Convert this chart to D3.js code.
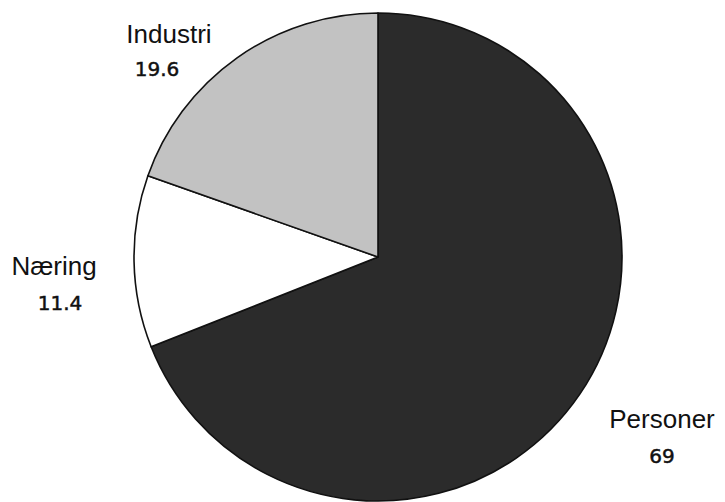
<!DOCTYPE html>
<html>
<head>
<meta charset="utf-8">
<script src="https://cdn.jsdelivr.net/npm/d3@7"></script>
<style>
  body { margin: 0; background: #fff; }
  .label { font-family: "Liberation Sans", Arial, sans-serif; font-size: 26px; fill: #111; }
  .value { font-family: "DejaVu Sans", sans-serif; font-size: 20px; fill: #111; stroke: #111; stroke-width: 0.5px; }
</style>
</head>
<body>
<div class="chart"></div>
<script>
// data
var categories = ["Personer", "Næring", "Industri"];
var values = [69, 11.4, 19.6];
var valueLabels = ["69", "11.4", "19.6"];

var svgWidth = 725;
var svgHeight = 502;

var cx = 378, cy = 257, radius = 244;

var colors = {"Personer": "#2b2b2b", "Næring": "#ffffff", "Industri": "#c2c2c2"};

// where each label sits (name anchor x, name baseline, value anchor x, value baseline)
var labelPos = {
    "Industri": [169, 43, 157, 76],
    "Næring":   [54, 275, 60, 310],
    "Personer": [662, 428, 662, 463]
};

var svg = d3.select(".chart")
    .append("svg")
    .attr("width", svgWidth)
    .attr("height", svgHeight);

var pieData = categories.map(function(c, i) {
    return {name: c, value: values[i], text: valueLabels[i]};
});

var pie = d3.pie()
    .sort(null)
    .value(function(d) { return d.value; });

var arc = d3.arc()
    .innerRadius(0)
    .outerRadius(radius);

var g = svg.append("g")
    .attr("transform", "translate(" + cx + "," + cy + ")");

g.selectAll("path.slice")
    .data(pie(pieData))
    .enter()
    .append("path")
    .attr("class", "slice")
    .attr("d", arc)
    .style("fill", function(d) { return colors[d.data.name]; })
    .style("stroke", "#111")
    .style("stroke-width", 1.6)
    .style("stroke-linejoin", "round");

// labels
var labels = svg.selectAll(".lbl")
    .data(pieData)
    .enter()
    .append("g")
    .attr("class", "lbl");

labels.append("text")
    .attr("class", "label")
    .attr("text-anchor", "middle")
    .attr("x", function(d) { return labelPos[d.name][0]; })
    .attr("y", function(d) { return labelPos[d.name][1]; })
    .text(function(d) { return d.name; });

labels.append("text")
    .attr("class", "value")
    .attr("text-anchor", "middle")
    .attr("x", function(d) { return labelPos[d.name][2]; })
    .attr("y", function(d) { return labelPos[d.name][3]; })
    .text(function(d) { return d.text; });
</script>
</body>
</html>
